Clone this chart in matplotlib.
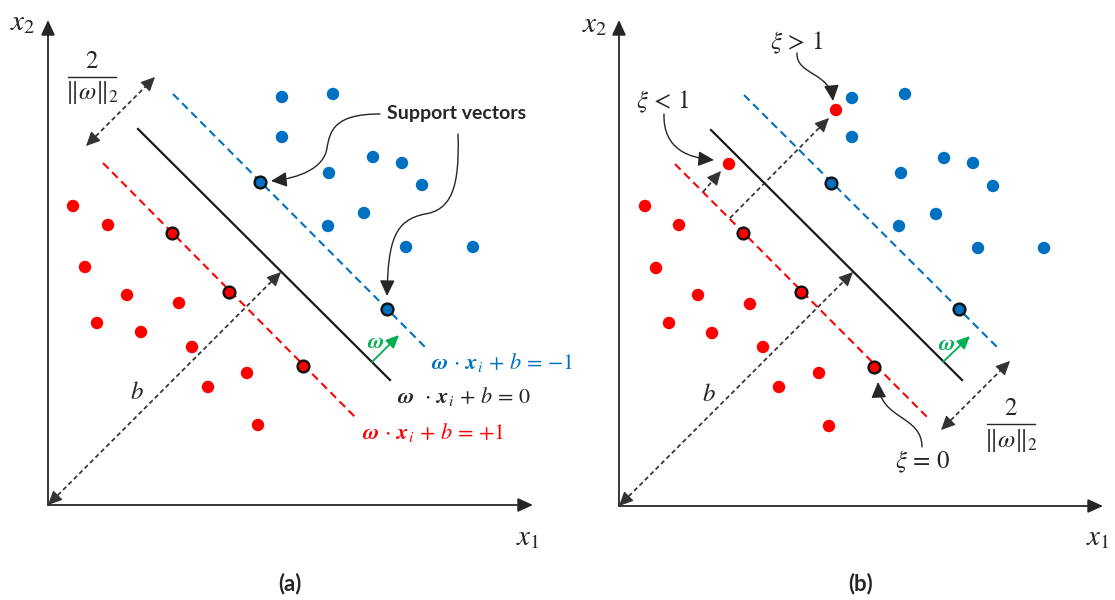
import matplotlib
matplotlib.use('Agg')
import matplotlib.pyplot as plt
from matplotlib.patches import FancyArrowPatch
from matplotlib.path import Path
import numpy as np

plt.rcParams['mathtext.fontset'] = 'stix'
plt.rcParams['font.family'] = ['DejaVu Sans']

RED = '#FF0000'
BLUE = '#0070C0'
GREEN = '#00B050'
INK = '#262626'
DASH = '#333333'

# ---------------- data (pixel coordinates, y measured downward) ----------------
# panel (a)
red_a_x = [73, 108, 85, 127, 179, 97, 141, 192, 247, 208, 258]
red_a_y = [206, 225, 267, 295, 303, 323, 332, 347, 373, 387, 425]
red_sv_a_x = [172, 229, 303]
red_sv_a_y = [233, 292, 366]
blue_a_x = [282, 333, 282, 373, 402, 329, 422, 364, 328, 406, 473]
blue_a_y = [97, 94, 137, 157, 163, 173, 185, 213, 226, 247, 247]
blue_sv_a_x = [260, 387]
blue_sv_a_y = [182, 309]
margin_blue_a = [(173, 94), (425, 347)]
hyperplane_a = [(138, 129), (390, 380)]
margin_red_a = [(103, 163), (355, 417)]
origin_a = (48, 505)
xend_a, yend_a = 533, 20

# panel (b)
red_b_x = [645, 679, 656, 698, 750, 669, 712, 763, 819, 779, 829, 729, 836]
red_b_y = [206, 225, 268, 295, 304, 323, 333, 347, 373, 387, 426, 164, 110]
red_sv_b_x = [743, 801, 874]
red_sv_b_y = [233, 292, 367]
blue_b_x = [852, 905, 852, 944, 973, 901, 993, 936, 899, 978, 1044]
blue_b_y = [98, 94, 137, 158, 163, 173, 186, 214, 226, 248, 248]
blue_sv_b_x = [831, 959]
blue_sv_b_y = [183, 309]
margin_blue_b = [(744, 95), (997, 347)]
hyperplane_b = [(711, 130), (962, 380)]
margin_red_b = [(675, 164), (927, 417)]
origin_b = (619, 506)
xend_b, yend_b = 1103, 20

fig = plt.figure(figsize=(11.15, 6.0), dpi=100)
ax = fig.add_axes([0, 0, 1, 1])
ax.set_xlim(0, 1115)
ax.set_ylim(600, 0)
ax.axis('off')


def solid_arrow(p0, p1, color=INK, lw=1.1, ms=13, style='-|>,head_length=0.7,head_width=0.32', z=3):
    a = FancyArrowPatch(posA=p0, posB=p1, arrowstyle=style, mutation_scale=ms,
                        color=color, lw=lw, shrinkA=0, shrinkB=0, zorder=z)
    ax.add_patch(a)


def head(tip, frm, color=DASH, ms=11):
    tip = np.array(tip, float)
    frm = np.array(frm, float)
    d = (tip - frm) / np.linalg.norm(tip - frm)
    solid_arrow(tuple(tip - d * 9), tuple(tip), color=color, lw=0.8, ms=ms,
                style='-|>,head_length=0.8,head_width=0.38')


def dashed_arrow(p0, p1, both=False):
    p0a = np.array(p0, float)
    p1a = np.array(p1, float)
    d = (p1a - p0a) / np.linalg.norm(p1a - p0a)
    s = p0a + d * 6 if both else p0a
    e = p1a - d * 6
    ax.plot([s[0], e[0]], [s[1], e[1]], color=DASH, lw=1.25, dashes=(2.6, 1.8), zorder=2)
    head(p1, p0)
    if both:
        head(p0, p1)


def curve_arrow(verts):
    codes = [Path.MOVETO] + [Path.CURVE4] * (len(verts) - 1)
    a = FancyArrowPatch(path=Path(verts, codes), arrowstyle='-|>,head_length=0.8,head_width=0.38',
                        mutation_scale=12, color=INK, lw=1.0, zorder=3)
    ax.add_patch(a)


def axes_frame(origin, xend, yend):
    solid_arrow(origin, (xend, origin[1]), color=INK, lw=1.3, ms=13)
    solid_arrow(origin, (origin[0], yend), color=INK, lw=1.3, ms=13)


def lines(mb, hp, mr):
    ax.plot([mb[0][0], mb[1][0]], [mb[0][1], mb[1][1]], color=BLUE, lw=1.5, dashes=(3.8, 2.4), zorder=2)
    ax.plot([hp[0][0], hp[1][0]], [hp[0][1], hp[1][1]], color='#1a1a1a', lw=1.6, zorder=2)
    ax.plot([mr[0][0], mr[1][0]], [mr[0][1], mr[1][1]], color=RED, lw=1.5, dashes=(3.8, 2.4), zorder=2)


def points(rx, ry, rsx, rsy, bx, by, bsx, bsy):
    ax.scatter(rx, ry, s=80, color=RED, edgecolors='none', zorder=4)
    ax.scatter(bx, by, s=80, color=BLUE, edgecolors='none', zorder=4)
    ax.scatter(rsx, rsy, s=72, color=RED, edgecolors='#111111', linewidths=1.7, zorder=5)
    ax.scatter(bsx, bsy, s=72, color=BLUE, edgecolors='#111111', linewidths=1.7, zorder=5)


def fraction(cx, ytop, ybar, ybot, halfw):
    ax.text(cx, ytop, r'$2$', fontsize=18, color=INK, ha='center', va='center')
    ax.plot([cx - halfw, cx + halfw], [ybar, ybar], color=INK, lw=1.0)
    ax.text(cx, ybot, r'$\Vert\omega\Vert_2$', fontsize=18, color=INK, ha='center', va='center')


MS = 16  # math label size

# ---------------- panel (a) ----------------
axes_frame(origin_a, xend_a, yend_a)
lines(margin_blue_a, hyperplane_a, margin_red_a)
points(red_a_x, red_a_y, red_sv_a_x, red_sv_a_y, blue_a_x, blue_a_y, blue_sv_a_x, blue_sv_a_y)
ax.text(23, 22, r'$x_2$', fontsize=21, color=INK, ha='center', va='center')
ax.text(528, 537, r'$x_1$', fontsize=21, color=INK, ha='center', va='center')
ax.text(290, 584, '(a)', fontsize=16, fontweight='bold', family='Lato', color=INK, ha='center', va='center')
fraction(92, 61, 77, 93, 24)
dashed_arrow((86, 146), (155, 77), both=True)
dashed_arrow(origin_a, (281, 272), both=True)
ax.text(137, 392, r'$b$', fontsize=18, color=INK, ha='center', va='center')
solid_arrow((372, 362), (399, 335), color=GREEN, lw=1.3, ms=11)
ax.text(376, 342, r'$\boldsymbol{\omega}$', fontsize=16, color=GREEN, ha='center', va='center')
ax.text(431, 363, r'$\boldsymbol{\omega}\,\cdot\,\boldsymbol{x}_i\,+\,b\,=\,{-}1$', fontsize=MS, color=BLUE, ha='left', va='center')
ax.text(397, 397, r'$\boldsymbol{\omega}\ \,\cdot\,\boldsymbol{x}_i\,+\,b\,=\,0$', fontsize=MS, color=INK, ha='left', va='center')
ax.text(362, 432, r'$\boldsymbol{\omega}\,\cdot\,\boldsymbol{x}_i\,+\,b\,=\,{+}1$', fontsize=MS, color=RED, ha='left', va='center')
ax.text(457, 113, 'Support vectors', fontsize=14, fontweight='bold', family='Lato', color=INK, ha='center', va='center')
curve_arrow([(380, 114), (335, 114), (330, 130), (327, 148), (324, 168), (300, 178), (271, 181)])
curve_arrow([(458, 134), (460, 190), (450, 210), (425, 214), (395, 220), (388, 240), (387, 296)])

# ---------------- panel (b) ----------------
axes_frame(origin_b, xend_b, yend_b)
lines(margin_blue_b, hyperplane_b, margin_red_b)
points(red_b_x, red_b_y, red_sv_b_x, red_sv_b_y, blue_b_x, blue_b_y, blue_sv_b_x, blue_sv_b_y)
ax.text(595, 24, r'$x_2$', fontsize=21, color=INK, ha='center', va='center')
ax.text(1098, 537, r'$x_1$', fontsize=21, color=INK, ha='center', va='center')
ax.text(861, 584, '(b)', fontsize=16, fontweight='bold', family='Lato', color=INK, ha='center', va='center')
fraction(1011, 408, 424, 440, 24)
dashed_arrow((941, 430), (1010, 361), both=True)
dashed_arrow(origin_b, (853, 272), both=True)
ax.text(709, 394, r'$b$', fontsize=18, color=INK, ha='center', va='center')
dashed_arrow((703, 192), (721, 171))
dashed_arrow((730, 218), (829, 118))
solid_arrow((943, 362), (970, 336), color=GREEN, lw=1.3, ms=11)
ax.text(947, 344, r'$\boldsymbol{\omega}$', fontsize=16, color=GREEN, ha='center', va='center')
ax.text(797, 43, r'$\xi\,>\,1$', fontsize=18, color=INK, ha='center', va='center')
ax.text(663, 102, r'$\xi\,<\,1$', fontsize=18, color=INK, ha='center', va='center')
ax.text(923, 462, r'$\xi\,=\,0$', fontsize=18, color=INK, ha='center', va='center')
curve_arrow([(797, 53), (796, 75), (830, 72), (833, 101)])
curve_arrow([(664, 114), (663, 150), (690, 158), (714, 160)])
curve_arrow([(922, 447), (922, 415), (880, 420), (878, 382)])

fig.savefig('out.png', dpi=100, facecolor='white')
